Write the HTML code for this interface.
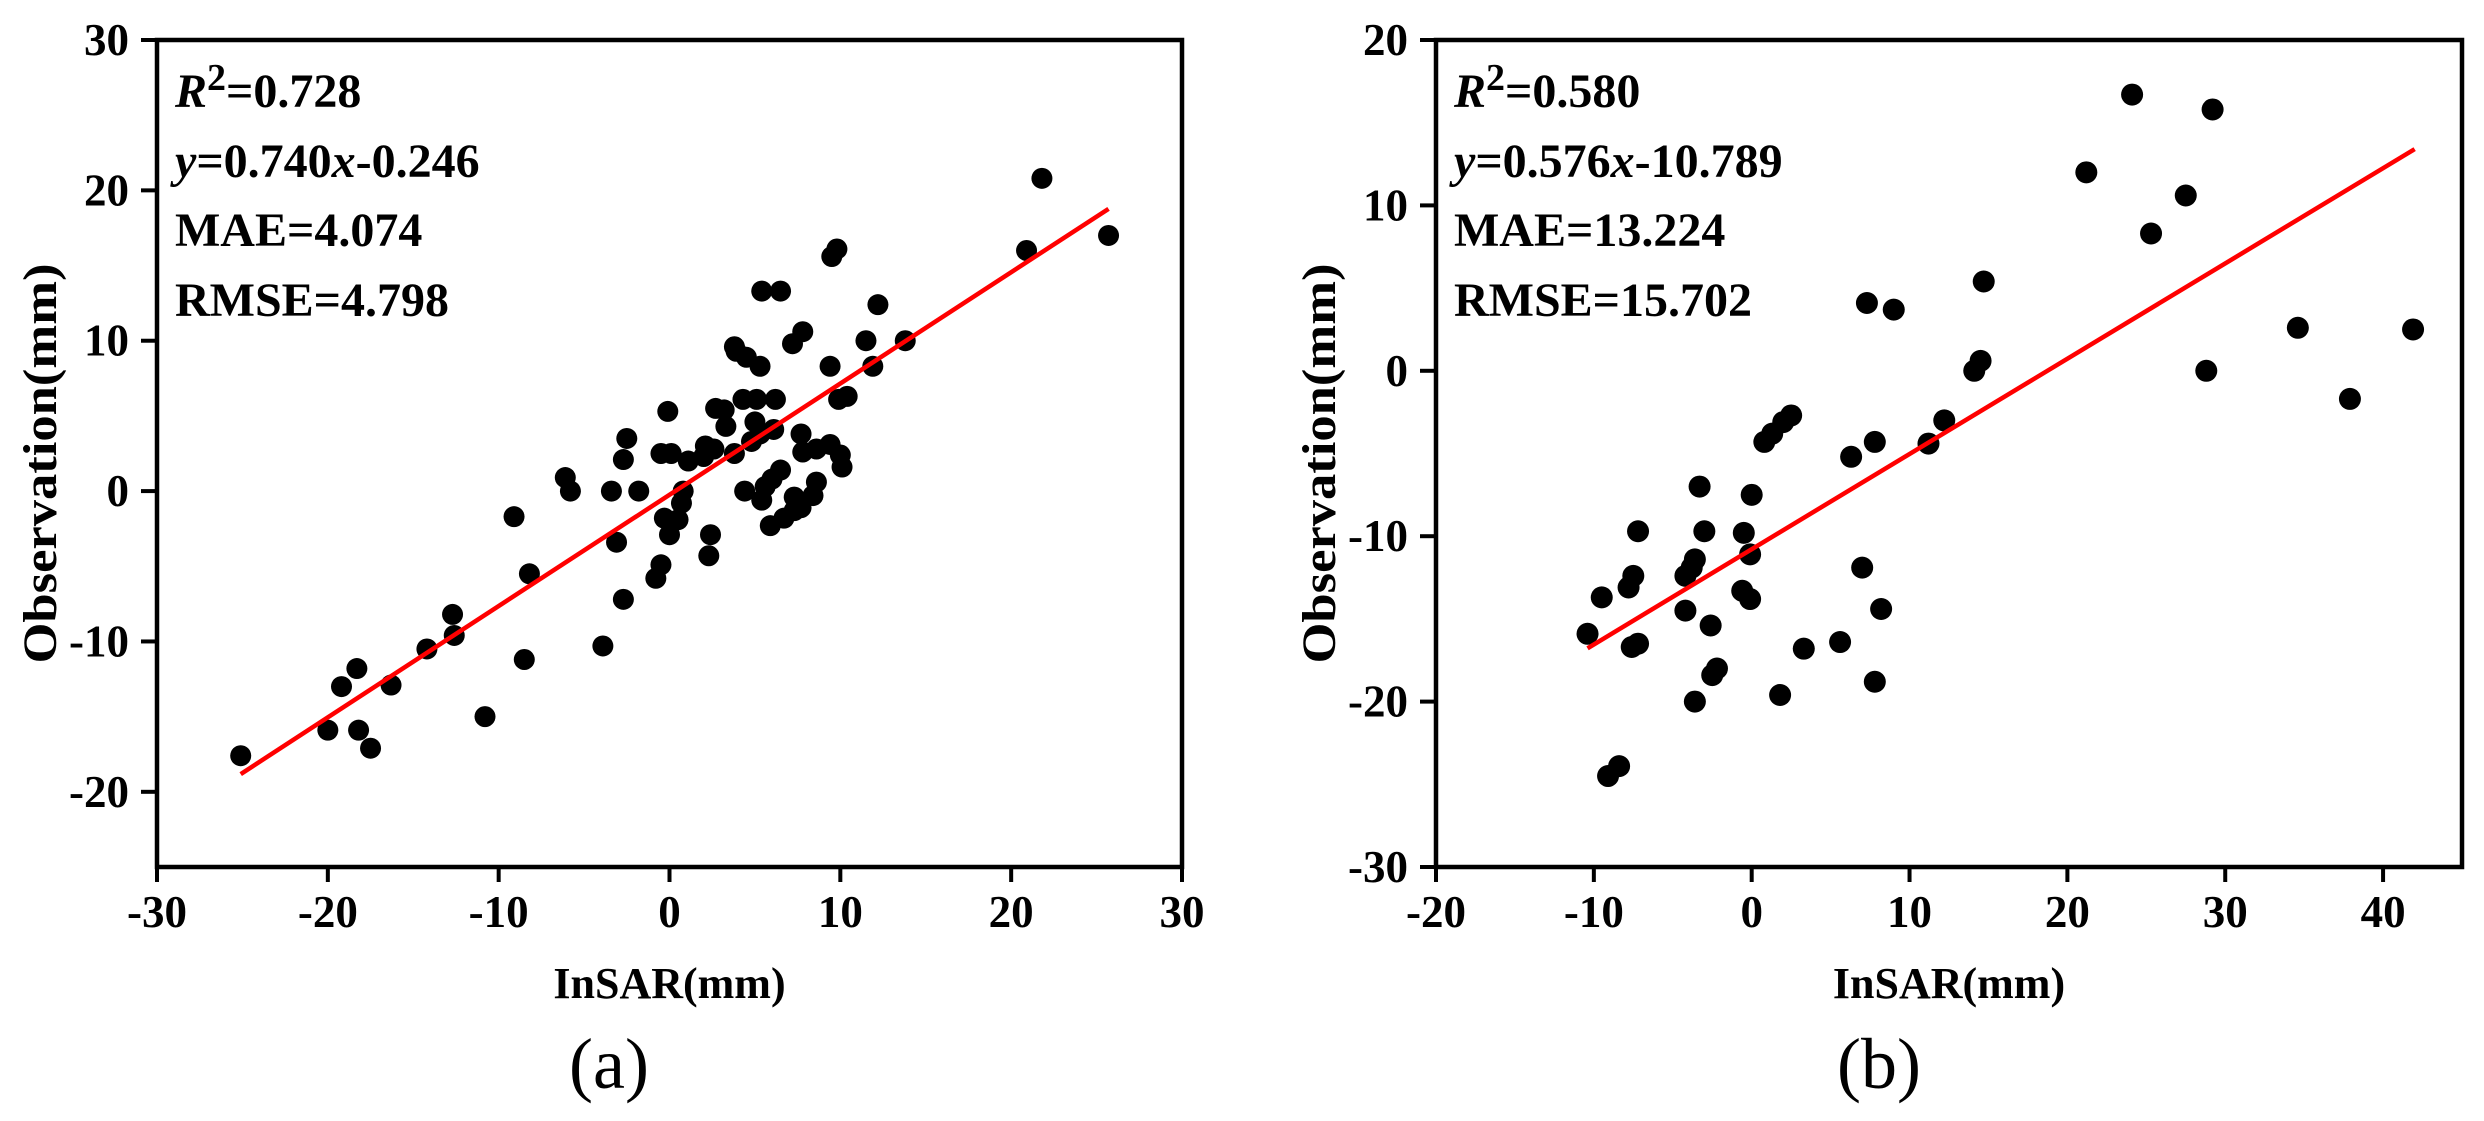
<!DOCTYPE html>
<html><head><meta charset="utf-8"><style>
html,body{margin:0;padding:0;background:#fff}
svg{display:block}
text{font-family:"Liberation Serif",serif;font-weight:bold;fill:#000}
</style></head><body>
<svg id="chart" xmlns="http://www.w3.org/2000/svg" width="2484" height="1121" viewBox="0 0 2484 1121"></svg>
<script>
// Panel (a) data
const aInsar = [-25.1,-20,-18.2,-17.5,-19.2,-18.3,-16.3,-14.2,-12.7,-12.6,-10.8,-8.5,-8.2,-9.1,-6.1,-5.8,-3.9,-3.4,-1.8,-3.1,-2.7,-2.7,-2.5,-0.8,-0.5,-0.1,-0.5,0.1,-0.3,0.5,0,0.7,0.8,1.1,2,2.3,2.4,
  9.8,9.5,5.4,6.5,12.2,20.9,7.8,7.2,11.5,13.8,3.8,3.9,4.5,5.3,9.4,11.9,2.7,3.2,4.3,5.1,6.2,3.3,5,5.3,6.1,4.8,9.9,10.4,7.7,7.8,8.6,9.4,10,10.1,2.1,2.6,3.8,4.4,5.6,6.5,6,5.4,7.3,8.6,8.4,7.7,7.3,6.7,5.9,25.7,21.8];
const aObs = [-17.6,-15.9,-15.9,-17.1,-13,-11.8,-12.9,-10.5,-8.2,-9.6,-15,-11.2,-5.5,-1.7,0.9,0,-10.3,0,0,-3.4,-7.2,2.1,3.5,-5.8,-4.9,5.3,2.5,2.5,-1.8,-1.9,-2.9,-0.8,0,2,2.3,-4.3,-2.9,
  16.1,15.6,13.3,13.3,12.4,16,10.6,9.8,10,10,9.6,9.3,8.9,8.3,8.3,8.3,5.5,5.4,6.1,6.1,6.1,4.3,4.6,3.8,4.1,3.3,6.1,6.3,3.8,2.6,2.8,3.1,2.4,1.6,3,2.8,2.5,0,0.3,1.4,0.8,-0.6,-0.4,0.6,-0.3,-1.1,-1.3,-1.8,-2.3,17,20.8];
const aXTicks = [-30,-20,-10,0,10,20,30];
const aYTicks = [-20,-10,0,10,20,30];
const aFit = [0.740,-0.246];
const aFitRange = [-25.1,25.7];
// Panel (b) data
const bInsar = [-10.4,-7.6,-7.2,-9.5,-7.8,-7.5,-7.2,-4.2,-3.6,-3.8,-4.2,-2.6,-3,-3.3,-2.2,-2.5,-3.6,-0.5,-0.1,-0.6,-0.1,0,0.8,1.3,2,2.5,1.8,3.3,5.6,6.3,7.8,7,8.2,7.8,7.3,9,11.2,12.2,-8.4,-9.1,
  14.1,14.5,14.7,21.2,24.1,29.2,27.5,25.3,28.8,34.6,41.9,37.9];
const bObs = [-15.9,-16.7,-16.5,-13.7,-13.1,-12.4,-9.7,-12.4,-11.4,-11.9,-14.5,-15.4,-9.7,-7,-18,-18.4,-20,-9.8,-11.1,-13.3,-13.8,-7.5,-4.3,-3.8,-3.1,-2.7,-19.6,-16.8,-16.4,-5.2,-4.3,-11.9,-14.4,-18.8,4.1,3.7,-4.4,-3,-23.9,-24.5,
  0,0.6,5.4,12,16.7,15.8,10.6,8.3,0,2.6,2.5,-1.7];
const bXTicks = [-20,-10,0,10,20,30,40];
const bYTicks = [-30,-20,-10,0,10,20];
const bFit = [0.576,-10.789];
const bFitRange = [-10.4,42];

const NS = 'http://www.w3.org/2000/svg';
const svg = document.getElementById('chart');
function mk(tag, attrs, parent){
  const e = document.createElementNS(NS, tag);
  for (const k in attrs) e.setAttribute(k, attrs[k]);
  (parent||svg).appendChild(e);
  return e;
}
function panel(p){
  const g = mk('g', {});
  
  
  const X = v => p.x0 + (v - p.xmin) / (p.xmax - p.xmin) * (p.x1 - p.x0);
  const Y = v => p.y1 - (v - p.ymin) / (p.ymax - p.ymin) * (p.y1 - p.y0);
  const fr = mk('rect', {x:p.x0, y:p.y0, width:p.x1-p.x0, height:p.y1-p.y0, fill:'none', stroke:'#000', 'stroke-width':4.5}, g);
  
  
  p.xt.forEach(t => {
    const tk = mk('line', {x1:X(t), x2:X(t), y1:p.y1, y2:p.y1+15, stroke:'#000', 'stroke-width':4}, g);
    
    
    const tl = mk('text', {x:X(t), y:p.y1+60, 'text-anchor':'middle', 'font-size':45}, g);
    
    
    tl.textContent = t;
  });
  p.yt.forEach(t => {
    const tk = mk('line', {x1:p.x0-16, x2:p.x0, y1:Y(t), y2:Y(t), stroke:'#000', 'stroke-width':4}, g);
    
    
    const tl = mk('text', {x:p.x0-28, y:Y(t)+15, 'text-anchor':'end', 'font-size':45}, g);
    
    
    tl.textContent = t;
  });
  p.xs.forEach((v, i) => {
    const c = mk('circle', {cx:X(v), cy:Y(p.ys[i]), r:p.r, fill:'#000'}, g);
    
    
  });
  const fl = mk('line', {x1:X(p.fr[0]), y1:Y(p.fit[0]*p.fr[0]+p.fit[1]), x2:X(p.fr[1]), y2:Y(p.fit[0]*p.fr[1]+p.fit[1]), stroke:'#ff0000', 'stroke-width':4.5}, g);
  
  
  const ax = p.x0 + 18;
  const r2 = mk('text', {x:ax, y:107, 'font-size':48}, g);
  
  
  r2.innerHTML = '<tspan font-style="italic">R</tspan><tspan font-size="38" dy="-17">2</tspan><tspan dy="17">=' + p.r2 + '</tspan>';
  const eq = mk('text', {x:ax, y:177, 'font-size':48}, g);
  
  
  eq.innerHTML = '<tspan font-style="italic">y</tspan>=' + p.fit[0].toFixed(3) + '<tspan font-style="italic">x</tspan>' + p.fit[1].toFixed(3);
  const mae = mk('text', {x:ax, y:246, 'font-size':48}, g);
  
  
  mae.textContent = 'MAE=' + p.mae;
  const rm = mk('text', {x:ax, y:316, 'font-size':48}, g);
  
  
  rm.textContent = 'RMSE=' + p.rmse;
  const cx = (p.x0 + p.x1) / 2;
  const xt = mk('text', {x:cx, y:998, 'text-anchor':'middle', 'font-size':44}, g);
  
  
  xt.textContent = 'InSAR(mm)';
  const yy = (p.y0 + p.y1) / 2 + 10;
  const yx = p.x0 - 101;
  const yt = mk('text', {x:yx, y:yy, 'text-anchor':'middle', 'font-size':48, textLength:400, lengthAdjust:'spacingAndGlyphs', transform:'rotate(-90 ' + yx + ' ' + yy + ')'}, g);
  
  
  yt.textContent = 'Observation(mm)';
  const pl = mk('text', {x:p.capX, y:1088, 'text-anchor':'middle', 'font-size':72}, g);
  
  
  pl.setAttribute('style', 'font-weight:normal');
  pl.textContent = p.cap;
}
panel({name:'panel-a', x0:157, x1:1182, y0:40, y1:867, xmin:-30, xmax:30, ymin:-25, ymax:30,
  xt:aXTicks, yt:aYTicks, xs:aInsar, ys:aObs, r:10.5, fit:aFit, fr:aFitRange,
  r2:'0.728', mae:'4.074', rmse:'4.798', cap:'(a)', capX:609});
panel({name:'panel-b', x0:1436, x1:2462, y0:40, y1:867, xmin:-20, xmax:45, ymin:-30, ymax:20,
  xt:bXTicks, yt:bYTicks, xs:bInsar, ys:bObs, r:11, fit:bFit, fr:bFitRange,
  r2:'0.580', mae:'13.224', rmse:'15.702', cap:'(b)', capX:1879});
</script>
</body></html>
